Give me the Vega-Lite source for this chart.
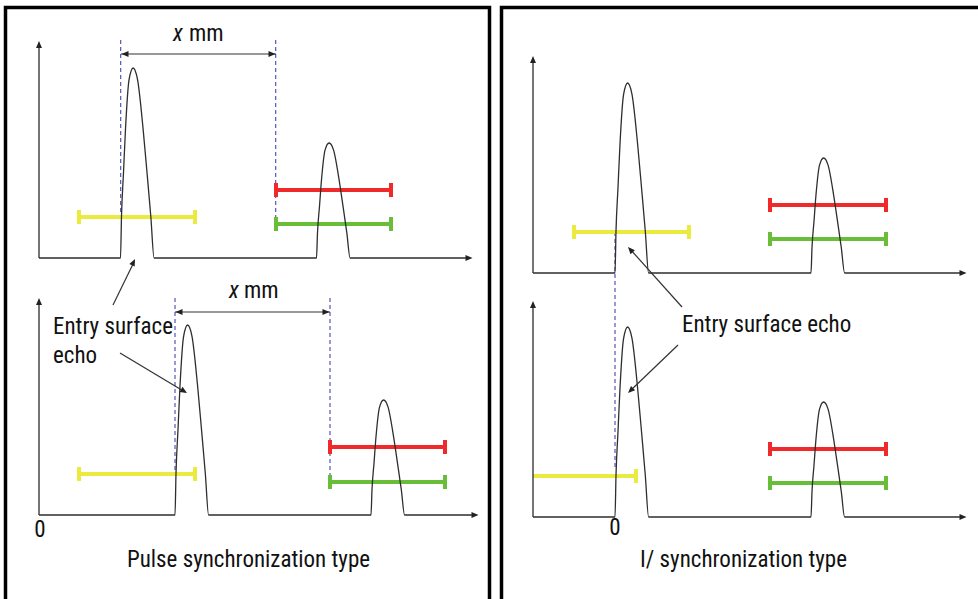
{
  "$schema": "https://vega.github.io/schema/vega-lite/v6.json",
  "width": 978,
  "height": 599,
  "autosize": {"type": "fit", "contains": "padding"},
  "padding": 0,
  "background": "white",
  "config": {"view": {"stroke": null}},
  "datasets": {
    "panels": [
      {"x": 5.5, "x2": 489.5, "y": 7.5, "y2": 640},
      {"x": 501.5, "x2": 1000, "y": 7.5, "y2": 640}
    ],
    "traces": [
      {"t": "TL", "x": 39, "y": 258},
      {"t": "TL", "x": 120.5, "y": 258}, {"t": "TL", "x": 121.5, "y": 216.2}, {"t": "TL", "x": 123.5, "y": 172.5}, {"t": "TL", "x": 125.5, "y": 129}, {"t": "TL", "x": 129.1, "y": 79.4}, {"t": "TL", "x": 133.1, "y": 68}, {"t": "TL", "x": 137.5, "y": 79.4}, {"t": "TL", "x": 143.1, "y": 129}, {"t": "TL", "x": 147, "y": 172.5}, {"t": "TL", "x": 150.8, "y": 216.2}, {"t": "TL", "x": 154.1, "y": 258},
      {"t": "TL", "x": 316.5, "y": 258}, {"t": "TL", "x": 317.5, "y": 232.7}, {"t": "TL", "x": 319.5, "y": 206.2}, {"t": "TL", "x": 321.5, "y": 179.8}, {"t": "TL", "x": 325.1, "y": 149.9}, {"t": "TL", "x": 329.1, "y": 143}, {"t": "TL", "x": 333.5, "y": 149.9}, {"t": "TL", "x": 339.1, "y": 179.8}, {"t": "TL", "x": 343, "y": 206.2}, {"t": "TL", "x": 346.8, "y": 232.7}, {"t": "TL", "x": 350.1, "y": 258},
      {"t": "TL", "x": 466, "y": 258},
      {"t": "BL", "x": 39, "y": 515},
      {"t": "BL", "x": 175, "y": 515}, {"t": "BL", "x": 176, "y": 473.2}, {"t": "BL", "x": 178, "y": 429.5}, {"t": "BL", "x": 180, "y": 386}, {"t": "BL", "x": 183.6, "y": 336.4}, {"t": "BL", "x": 187.6, "y": 325}, {"t": "BL", "x": 192, "y": 336.4}, {"t": "BL", "x": 197.6, "y": 386}, {"t": "BL", "x": 201.5, "y": 429.5}, {"t": "BL", "x": 205.3, "y": 473.2}, {"t": "BL", "x": 208.6, "y": 515},
      {"t": "BL", "x": 371, "y": 515}, {"t": "BL", "x": 372, "y": 489.7}, {"t": "BL", "x": 374, "y": 463.2}, {"t": "BL", "x": 376, "y": 436.8}, {"t": "BL", "x": 379.6, "y": 406.9}, {"t": "BL", "x": 383.6, "y": 400}, {"t": "BL", "x": 388, "y": 406.9}, {"t": "BL", "x": 393.6, "y": 436.8}, {"t": "BL", "x": 397.5, "y": 463.2}, {"t": "BL", "x": 401.3, "y": 489.7}, {"t": "BL", "x": 404.6, "y": 515},
      {"t": "BL", "x": 472, "y": 515},
      {"t": "TR", "x": 533, "y": 273},
      {"t": "TR", "x": 615, "y": 273}, {"t": "TR", "x": 616, "y": 231.2}, {"t": "TR", "x": 618, "y": 187.5}, {"t": "TR", "x": 620, "y": 144}, {"t": "TR", "x": 623.6, "y": 94.4}, {"t": "TR", "x": 627.6, "y": 83}, {"t": "TR", "x": 632, "y": 94.4}, {"t": "TR", "x": 637.6, "y": 144}, {"t": "TR", "x": 641.5, "y": 187.5}, {"t": "TR", "x": 645.3, "y": 231.2}, {"t": "TR", "x": 648.6, "y": 273},
      {"t": "TR", "x": 811, "y": 273}, {"t": "TR", "x": 812, "y": 247.7}, {"t": "TR", "x": 814, "y": 221.2}, {"t": "TR", "x": 816, "y": 194.8}, {"t": "TR", "x": 819.6, "y": 164.9}, {"t": "TR", "x": 823.6, "y": 158}, {"t": "TR", "x": 828, "y": 164.9}, {"t": "TR", "x": 833.6, "y": 194.8}, {"t": "TR", "x": 837.5, "y": 221.2}, {"t": "TR", "x": 841.3, "y": 247.7}, {"t": "TR", "x": 844.6, "y": 273},
      {"t": "TR", "x": 960, "y": 273},
      {"t": "BR", "x": 533, "y": 517},
      {"t": "BR", "x": 615, "y": 517}, {"t": "BR", "x": 616, "y": 475.2}, {"t": "BR", "x": 618, "y": 431.5}, {"t": "BR", "x": 620, "y": 388}, {"t": "BR", "x": 623.6, "y": 338.4}, {"t": "BR", "x": 627.6, "y": 327}, {"t": "BR", "x": 632, "y": 338.4}, {"t": "BR", "x": 637.6, "y": 388}, {"t": "BR", "x": 641.5, "y": 431.5}, {"t": "BR", "x": 645.3, "y": 475.2}, {"t": "BR", "x": 648.6, "y": 517},
      {"t": "BR", "x": 811, "y": 517}, {"t": "BR", "x": 812, "y": 491.7}, {"t": "BR", "x": 814, "y": 465.2}, {"t": "BR", "x": 816, "y": 438.8}, {"t": "BR", "x": 819.6, "y": 408.9}, {"t": "BR", "x": 823.6, "y": 402}, {"t": "BR", "x": 828, "y": 408.9}, {"t": "BR", "x": 833.6, "y": 438.8}, {"t": "BR", "x": 837.5, "y": 465.2}, {"t": "BR", "x": 841.3, "y": 491.7}, {"t": "BR", "x": 844.6, "y": 517},
      {"t": "BR", "x": 960, "y": 517}
    ],
    "vaxes": [
      {"x": 39, "y": 258, "y2": 48},
      {"x": 39, "y": 515, "y2": 305},
      {"x": 533, "y": 273, "y2": 63},
      {"x": 533, "y": 517, "y2": 308}
    ],
    "dashes": [
      {"x": 120.7, "y": 40, "y2": 217},
      {"x": 275.7, "y": 40, "y2": 222},
      {"x": 175, "y": 298, "y2": 474},
      {"x": 330, "y": 298, "y2": 479},
      {"x": 615, "y": 232, "y2": 470}
    ],
    "lines": [
      {"x": 121, "x2": 276, "y": 54, "y2": 54},
      {"x": 175, "x2": 330, "y": 312, "y2": 312},
      {"x": 113, "y": 305, "x2": 134, "y2": 262},
      {"x": 120, "y": 353, "x2": 185, "y2": 392},
      {"x": 682, "y": 307, "x2": 630, "y2": 249},
      {"x": 678, "y": 345, "x2": 630, "y2": 391}
    ],
    "heads": [
      {"x": 39, "y": 41, "d": "up"}, {"x": 39, "y": 298, "d": "up"}, {"x": 533, "y": 56, "d": "up"}, {"x": 533, "y": 301, "d": "up"},
      {"x": 472.5, "y": 258, "d": "right"}, {"x": 478.5, "y": 515, "d": "right"}, {"x": 966.5, "y": 273, "d": "right"}, {"x": 966.5, "y": 517, "d": "right"},
      {"x": 121.5, "y": 54, "d": "left"}, {"x": 275.5, "y": 54, "d": "right"}, {"x": 175.5, "y": 312, "d": "left"}, {"x": 329.5, "y": 312, "d": "right"},
      {"x": 135, "y": 259, "d": "ne"}, {"x": 187, "y": 393, "d": "se"}, {"x": 628, "y": 247, "d": "nw"}, {"x": 628, "y": 393, "d": "sw"}
    ],
    "gates": [
      {"gate": "yellow", "x": 79, "x2": 195, "y": 217, "lcap": true},
      {"gate": "red", "x": 276, "x2": 391, "y": 190, "lcap": true},
      {"gate": "green", "x": 276, "x2": 391, "y": 224, "lcap": true},
      {"gate": "yellow", "x": 79, "x2": 195, "y": 474, "lcap": true},
      {"gate": "red", "x": 330, "x2": 445, "y": 447, "lcap": true},
      {"gate": "green", "x": 330, "x2": 445, "y": 482, "lcap": true},
      {"gate": "yellow", "x": 574, "x2": 689, "y": 232, "lcap": true},
      {"gate": "red", "x": 770, "x2": 886, "y": 205, "lcap": true},
      {"gate": "green", "x": 770, "x2": 886, "y": 239, "lcap": true},
      {"gate": "yellow", "x": 533, "x2": 636, "y": 476, "lcap": false},
      {"gate": "red", "x": 770, "x2": 886, "y": 449, "lcap": true},
      {"gate": "green", "x": 770, "x2": 886, "y": 483, "lcap": true}
    ],
    "leftText": [
      {"x": 53, "y": 334, "text": "Entry surface"},
      {"x": 53, "y": 362.5, "text": "echo"},
      {"x": 682, "y": 332, "text": "Entry surface echo"},
      {"x": 189, "y": 40.5, "text": "mm"},
      {"x": 244, "y": 297.5, "text": "mm"}
    ],
    "centerText": [
      {"x": 248.5, "y": 566.5, "text": "Pulse synchronization type"},
      {"x": 743.5, "y": 566.5, "text": "I/ synchronization type"},
      {"x": 40, "y": 537, "text": "0"},
      {"x": 615, "y": 535, "text": "0"}
    ],
    "italicText": [
      {"x": 173, "y": 40.5, "text": "x"},
      {"x": 229, "y": 297.5, "text": "x"}
    ]
  },
  "layer": [
    {
      "data": {"name": "panels"},
      "mark": {"type": "rect", "filled": false, "stroke": "#000000", "strokeWidth": 3.5, "clip": true},
      "encoding": {
        "x": {"field": "x", "type": "quantitative", "scale": {"domain": [0, 978], "nice": false, "zero": false}, "axis": null},
        "x2": {"field": "x2"},
        "y": {"field": "y", "type": "quantitative", "scale": {"domain": [0, 599], "nice": false, "zero": false, "reverse": true}, "axis": null},
        "y2": {"field": "y2"}
      }
    },
    {
      "data": {"name": "dashes"},
      "mark": {"type": "rule", "color": "#4545b5", "strokeWidth": 1.1, "strokeDash": [4, 3]},
      "encoding": {
        "x": {"field": "x", "type": "quantitative", "scale": {"domain": [0, 978], "nice": false, "zero": false}, "axis": null},
        "y": {"field": "y", "type": "quantitative", "scale": {"domain": [0, 599], "nice": false, "zero": false, "reverse": true}, "axis": null},
        "y2": {"field": "y2"}
      }
    },
    {
      "data": {"name": "gates"},
      "mark": {"type": "rule", "strokeWidth": 4},
      "encoding": {
        "x": {"field": "x", "type": "quantitative", "scale": {"domain": [0, 978], "nice": false, "zero": false}, "axis": null},
        "x2": {"field": "x2"},
        "y": {"field": "y", "type": "quantitative", "scale": {"domain": [0, 599], "nice": false, "zero": false, "reverse": true}, "axis": null},
        "color": {"field": "gate", "type": "nominal", "scale": {"domain": ["yellow", "red", "green"], "range": ["#ebeb3f", "#f02a2a", "#68be38"]}, "legend": null}
      }
    },
    {
      "data": {"name": "gates"},
      "transform": [
        {"fold": ["x", "x2"], "as": ["end", "xc"]},
        {"filter": "datum.end == 'x2' || datum.lcap"}
      ],
      "mark": {"type": "tick", "orient": "vertical", "size": 14, "thickness": 4, "opacity": 1},
      "encoding": {
        "x": {"field": "xc", "type": "quantitative", "scale": {"domain": [0, 978], "nice": false, "zero": false}, "axis": null},
        "y": {"field": "y", "type": "quantitative", "scale": {"domain": [0, 599], "nice": false, "zero": false, "reverse": true}, "axis": null},
        "color": {"field": "gate", "type": "nominal", "scale": {"domain": ["yellow", "red", "green"], "range": ["#ebeb3f", "#f02a2a", "#68be38"]}, "legend": null}
      }
    },
    {
      "data": {"name": "vaxes"},
      "mark": {"type": "rule", "color": "#3a3a3a", "strokeWidth": 1.4},
      "encoding": {
        "x": {"field": "x", "type": "quantitative", "scale": {"domain": [0, 978], "nice": false, "zero": false}, "axis": null},
        "y": {"field": "y", "type": "quantitative", "scale": {"domain": [0, 599], "nice": false, "zero": false, "reverse": true}, "axis": null},
        "y2": {"field": "y2"}
      }
    },
    {
      "data": {"name": "traces"},
      "mark": {"type": "line", "color": "#2e2e2e", "strokeWidth": 1.3, "interpolate": "monotone"},
      "encoding": {
        "x": {"field": "x", "type": "quantitative", "scale": {"domain": [0, 978], "nice": false, "zero": false}, "axis": null},
        "y": {"field": "y", "type": "quantitative", "scale": {"domain": [0, 599], "nice": false, "zero": false, "reverse": true}, "axis": null},
        "detail": {"field": "t", "type": "nominal"}
      }
    },
    {
      "data": {"name": "lines"},
      "mark": {"type": "rule", "color": "#333333", "strokeWidth": 1.2},
      "encoding": {
        "x": {"field": "x", "type": "quantitative", "scale": {"domain": [0, 978], "nice": false, "zero": false}, "axis": null},
        "x2": {"field": "x2"},
        "y": {"field": "y", "type": "quantitative", "scale": {"domain": [0, 599], "nice": false, "zero": false, "reverse": true}, "axis": null},
        "y2": {"field": "y2"}
      }
    },
    {
      "data": {"name": "heads"},
      "mark": {"type": "point", "filled": true, "size": 49, "color": "#222222", "opacity": 1, "strokeWidth": 0},
      "encoding": {
        "x": {"field": "x", "type": "quantitative", "scale": {"domain": [0, 978], "nice": false, "zero": false}, "axis": null},
        "y": {"field": "y", "type": "quantitative", "scale": {"domain": [0, 599], "nice": false, "zero": false, "reverse": true}, "axis": null},
        "shape": {
          "field": "d", "type": "nominal", "legend": null,
          "scale": {
            "domain": ["up", "right", "left", "ne", "se", "nw", "sw"],
            "range": [
              "M0 0 L0.85 2 L-0.85 2 Z",
              "M0 0 L-2 0.85 L-2 -0.85 Z",
              "M0 0 L2 0.85 L2 -0.85 Z",
              "M0 0 L-0.095 2.17 L-1.629 1.438 Z",
              "M0 0 L-2.154 -0.296 L-1.282 -1.756 Z",
              "M0 0 L1.97 0.917 L0.706 2.055 Z",
              "M0 0 L0.853 -1.999 L2.031 -0.773 Z"
            ]
          }
        }
      }
    },
    {
      "data": {"name": "leftText"},
      "mark": {"type": "text", "align": "left", "baseline": "alphabetic", "font": "Liberation Sans Narrow, Arial Narrow, Roboto Condensed, Liberation Sans, sans-serif", "fontSize": 23, "color": "#111111"},
      "encoding": {
        "x": {"field": "x", "type": "quantitative", "scale": {"domain": [0, 978], "nice": false, "zero": false}, "axis": null},
        "y": {"field": "y", "type": "quantitative", "scale": {"domain": [0, 599], "nice": false, "zero": false, "reverse": true}, "axis": null},
        "text": {"field": "text"}
      }
    },
    {
      "data": {"name": "centerText"},
      "mark": {"type": "text", "align": "center", "baseline": "alphabetic", "font": "Liberation Sans Narrow, Arial Narrow, Roboto Condensed, Liberation Sans, sans-serif", "fontSize": 23, "color": "#111111"},
      "encoding": {
        "x": {"field": "x", "type": "quantitative", "scale": {"domain": [0, 978], "nice": false, "zero": false}, "axis": null},
        "y": {"field": "y", "type": "quantitative", "scale": {"domain": [0, 599], "nice": false, "zero": false, "reverse": true}, "axis": null},
        "text": {"field": "text"}
      }
    },
    {
      "data": {"name": "italicText"},
      "mark": {"type": "text", "align": "left", "baseline": "alphabetic", "font": "Liberation Sans Narrow, Arial Narrow, Roboto Condensed, Liberation Sans, sans-serif", "fontStyle": "italic", "fontSize": 23, "color": "#111111"},
      "encoding": {
        "x": {"field": "x", "type": "quantitative", "scale": {"domain": [0, 978], "nice": false, "zero": false}, "axis": null},
        "y": {"field": "y", "type": "quantitative", "scale": {"domain": [0, 599], "nice": false, "zero": false, "reverse": true}, "axis": null},
        "text": {"field": "text"}
      }
    }
  ]
}
